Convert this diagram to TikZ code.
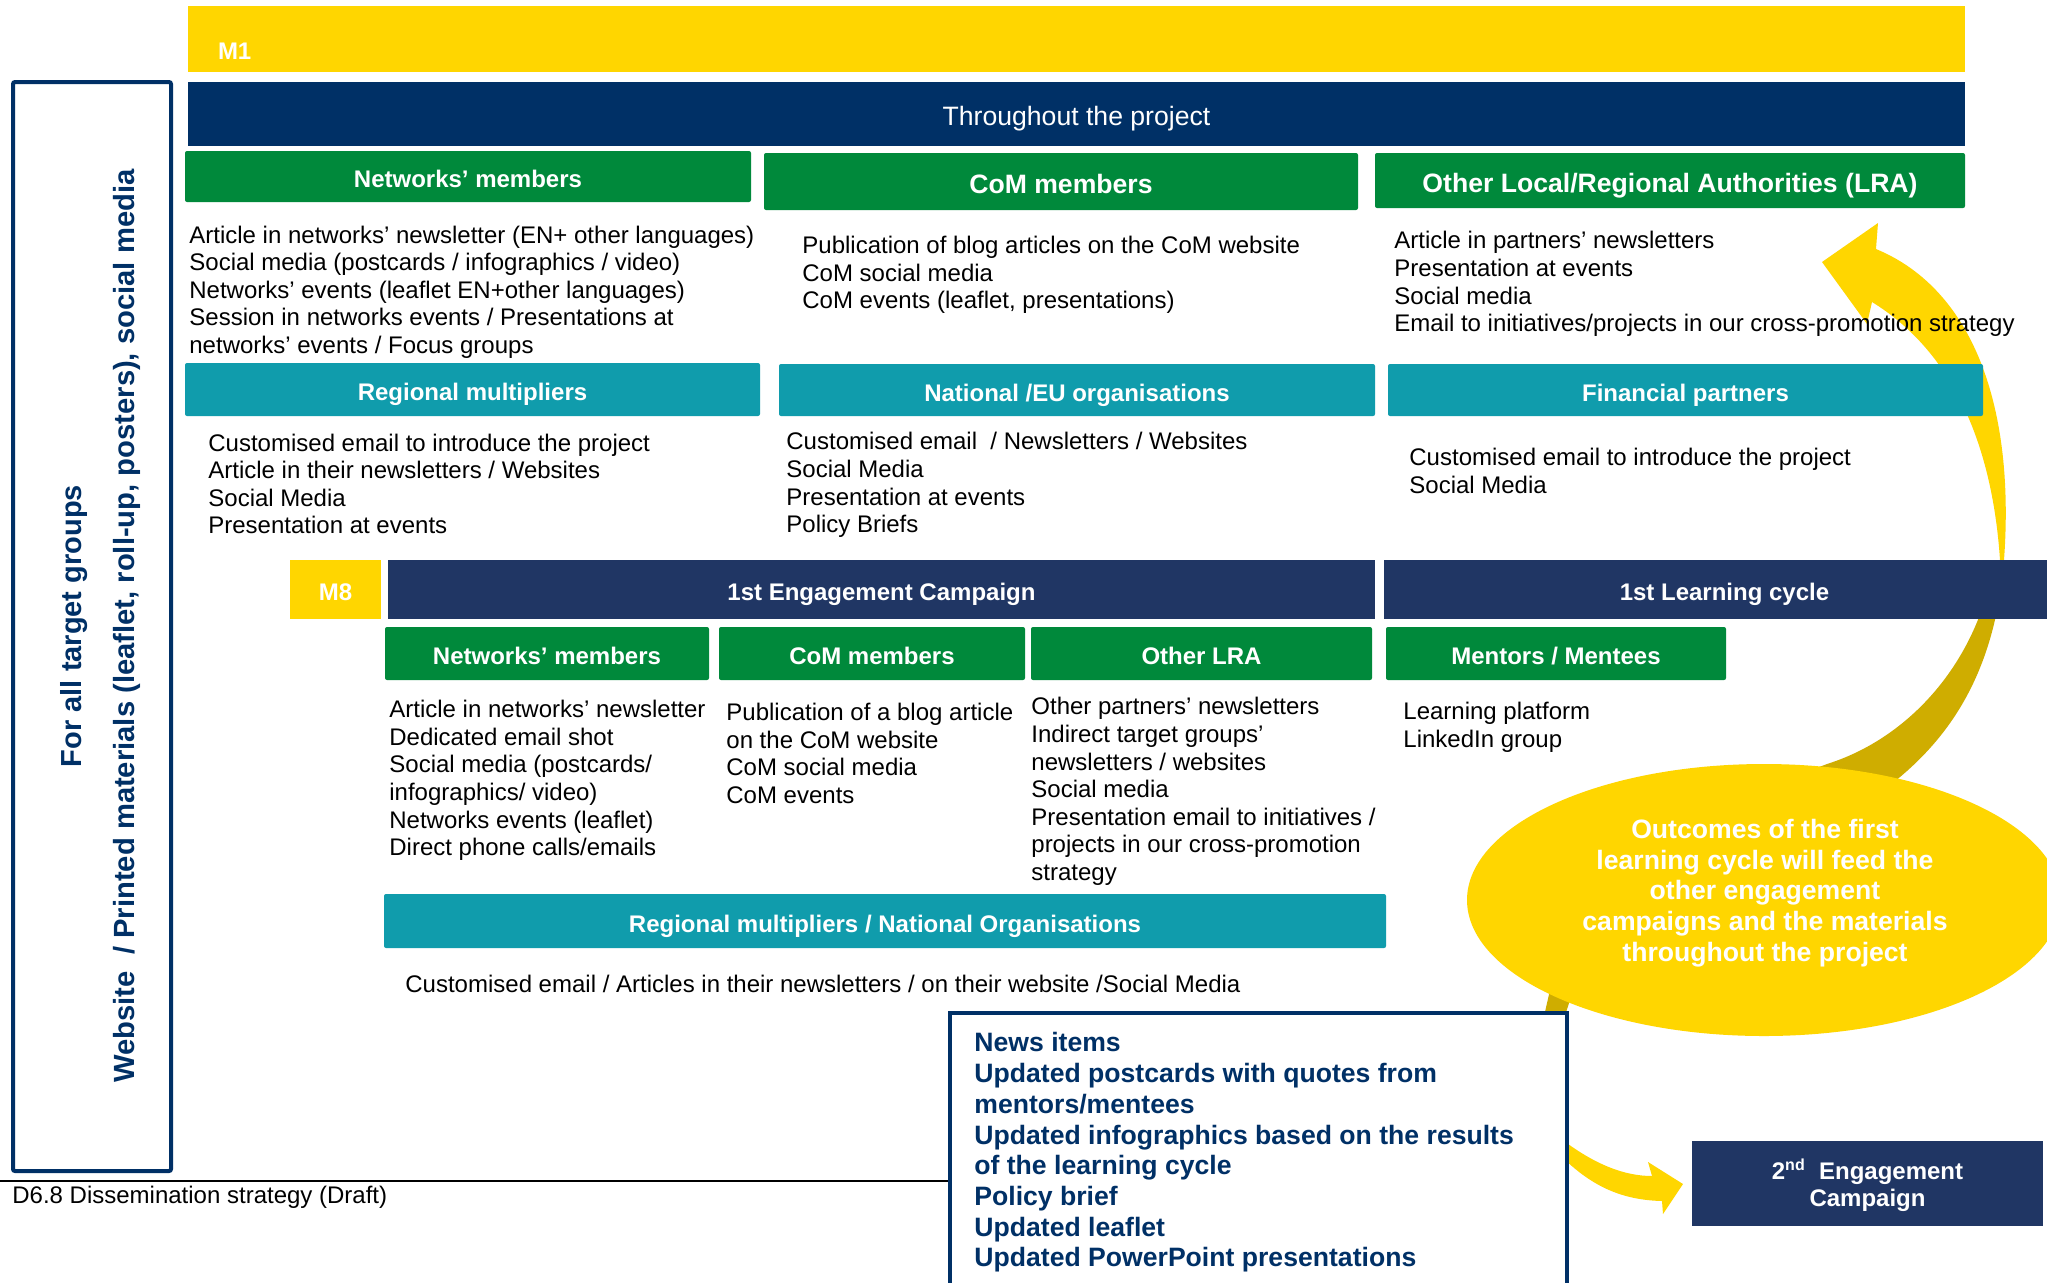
\documentclass[tikz,border=0pt]{standalone}
\usepackage{fontspec}
\setmainfont{Liberation Sans}
\definecolor{ylw}{HTML}{FFD600}
\definecolor{dgold}{HTML}{CFAD00}
\definecolor{navyA}{HTML}{003066}
\definecolor{navyB}{HTML}{203664}
\definecolor{grn}{HTML}{00893B}
\definecolor{tealc}{HTML}{109CAC}
\tikzset{
  hdr/.style={inner sep=0pt, outer sep=0pt, text=white, text height=11pt, text depth=0pt, font=\bfseries\fontsize{12}{14}\selectfont},
  hdrbig/.style={hdr, text height=11.8pt, font=\bfseries\fontsize{13.3}{16}\selectfont},
  greenbox/.style={fill=grn, rounded corners=1pt},
  tealbox/.style={fill=tealc, rounded corners=1pt},
  navyAbox/.style={fill=navyA},
  navyBbox/.style={fill=navyB},
  ylwbox/.style={fill=ylw},
  body/.style={align=left, inner sep=0pt, anchor=west, font=\fontsize{12}{13.8}\selectfont},
  newstext/.style={align=left, inner sep=0pt, anchor=west, text=navyA, font=\bfseries\fontsize{13.3}{15.36}\selectfont},
}
\begin{document}
\begin{tikzpicture}[x=0.5pt, y=-0.5pt]
\useasboundingbox[fill=white] (0,0) rectangle (2047,1282);

% ---- big curved arrow (behind everything) ----
\fill[ylw] (1878,223) -- (1876,249) .. controls (1975,290) and (2015,410) .. (2004,560)
  -- (2002,592) -- (1994,592) -- (2000,560) .. controls (1992,440) and (1950,350) .. (1872,302)
  -- (1867,324) -- (1822,262) -- cycle;
\fill[dgold] (1999,600) .. controls (1985,680) and (1950,735) .. (1900,777)
  .. controls (1800,860) and (1620,920) .. (1570,1000) -- (1562,1025) -- (1542,1025)
  -- (1550,990) .. controls (1600,900) and (1750,790) .. (1830,763)
  .. controls (1900,740) and (1960,680) .. (1985,600) -- cycle;
% ---- small arrow ----
\fill[ylw] (1560,1138) .. controls (1595,1165) and (1625,1176) .. (1652,1176) -- (1648,1162)
  -- (1683,1184) -- (1663,1214) -- (1662,1201) .. controls (1620,1200) and (1590,1185) .. (1560,1155) -- cycle;

% ---- top bars ----
\node[hdr, ylwbox, minimum width=888.5pt, minimum height=32.75pt] (m1bar) at (1076.5,39) {};
\node[hdr, anchor=west] (m1) at (218,48) {M1};
\node[hdrbig, navyAbox, minimum width=888.5pt, minimum height=32pt, font=\fontsize{13.3}{16}\selectfont] (thr) at (1076.5,114) {Throughout the project};

% ---- row 1 ----
\node[hdr, greenbox, minimum width=283pt, minimum height=25.5pt] (g1) at (468,176.5) {Networks’ members};
\node[hdrbig, greenbox, minimum width=297pt, minimum height=28.5pt] (g2) at (1061,181.5) {CoM members};
\node[hdrbig, greenbox, minimum width=295pt, minimum height=27.5pt] (g3) at (1670,180.5) {Other Local/Regional Authorities (LRA)};

\node[body] (b1) at (189,292) {Article in networks’ newsletter (EN+ other languages)\\Social media (postcards / infographics / video)\\Networks’ events (leaflet EN+other languages)\\Session in networks events / Presentations at\\networks’ events / Focus groups};
\node[body] (b2) at (802,275) {Publication of blog articles on the CoM website\\CoM social media\\CoM events (leaflet, presentations)};
\node[body] (b3) at (1394,284) {Article in partners’ newsletters\\Presentation at events\\Social media\\Email to initiatives/projects in our cross-promotion strategy};

% ---- row 2 ----
\node[hdr, tealbox, minimum width=287.5pt, minimum height=26.5pt] (t1) at (472.5,389.5) {Regional multipliers};
\node[hdr, tealbox, minimum width=298pt, minimum height=26pt] (t2) at (1077,390) {National /EU organisations};
\node[hdr, tealbox, minimum width=297.5pt, minimum height=26pt] (t3) at (1685.5,390) {Financial partners};

\node[body] (c1) at (208,484) {Customised email to introduce the project\\Article in their newsletters / Websites\\Social Media\\Presentation at events};
\node[body] (c2) at (786,485) {Customised email~~/ Newsletters / Websites\\Social Media\\Presentation at events\\Policy Briefs};
\node[body] (c3) at (1409,471) {Customised email to introduce the project\\Social Media};

% ---- campaign row ----
\node[hdr, ylwbox, minimum width=45.5pt, minimum height=29.5pt] (m8) at (335.5,589.5) {M8};
\node[hdr, navyBbox, minimum width=493.5pt, minimum height=29.5pt] (eng1) at (881.5,589.5) {1st Engagement Campaign};
\node[hdr, navyBbox, minimum width=331.5pt, minimum height=29.5pt] (learn) at (1715.5,589.5) {\hspace*{9pt}1st Learning cycle};

\node[hdr, greenbox, minimum width=162pt, minimum height=26.5pt] (h1) at (547,653.5) {Networks’ members};
\node[hdr, greenbox, minimum width=153pt, minimum height=26.5pt] (h2) at (872,653.5) {CoM members};
\node[hdr, greenbox, minimum width=170.5pt, minimum height=26.5pt] (h3) at (1201.5,653.5) {Other LRA};
\node[hdr, greenbox, minimum width=170pt, minimum height=26.5pt] (h4) at (1556,653.5) {Mentors / Mentees};

\node[body] (d1) at (389,780.5) {Article in networks’ newsletter\\Dedicated email shot\\Social media (postcards/\\infographics/ video)\\Networks events (leaflet)\\Direct phone calls/emails};
\node[body] (d2) at (726,753.5) {Publication of a blog article\\on the CoM website\\CoM social media\\CoM events};
\node[body] (d3) at (1031,791.5) {Other partners’ newsletters\\Indirect target groups’\\newsletters / websites\\Social media\\Presentation email to initiatives /\\projects in our cross-promotion\\strategy};
\node[body] (d4) at (1403,727.5) {Learning platform\\LinkedIn group};

\node[hdr, tealbox, minimum width=501pt, minimum height=27pt] (t4) at (885,921) {Regional multipliers / National Organisations};
\node[body] (e1) at (405,984) {Customised email / Articles in their newsletters / on their website /Social Media};

% ---- ellipse ----
\fill[ylw] (1764,900) ellipse [x radius=148.5pt, y radius=68pt];
\node[align=center, inner sep=0pt, text=white, font=\bfseries\fontsize{13.3}{15.36}\selectfont] (outc) at (1765,893)
  {Outcomes of the first\\learning cycle will feed the\\other engagement\\campaigns and the materials\\throughout the project};

% ---- left box ----
\draw[navyA, line width=2pt, rounded corners=1pt] (13,82) rectangle (171,1171);
\node[rotate=90, inner sep=0pt, text=navyA, font=\bfseries\fontsize{14.5}{17}\selectfont] (vt1) at (74,626) {For all target groups};
\node[rotate=90, inner sep=0pt, text=navyA, font=\bfseries\fontsize{14.6}{17}\selectfont] (vt2) at (127,626) {Website~~/ Printed materials (leaflet, roll-up, posters), social media};

% ---- footer ----
\draw[black, line width=0.75pt] (0,1181) -- (950,1181);
\node[body] (foot) at (12,1197) {D6.8 Dissemination strategy (Draft)};

% ---- news box ----
\draw[navyA, line width=2pt, fill=white] (950,1300) -- (950,1013) -- (1567,1013) -- (1567,1300);
\node[newstext] (news) at (974,1152.5) {News items\\Updated postcards with quotes from\\mentors/mentees\\Updated infographics based on the results\\of the learning cycle\\Policy brief\\Updated leaflet\\Updated PowerPoint presentations};

% ---- 2nd engagement ----
\node[inner sep=0pt, outer sep=0pt, text=white, navyBbox, align=center, minimum width=175.5pt, minimum height=42.5pt, font=\bfseries\fontsize{12}{13.5}\selectfont] (eng2) at (1867.5,1183.5) {\rule{0pt}{12pt}2\textsuperscript{nd}~~Engagement\\Campaign};
\end{tikzpicture}
\end{document}
